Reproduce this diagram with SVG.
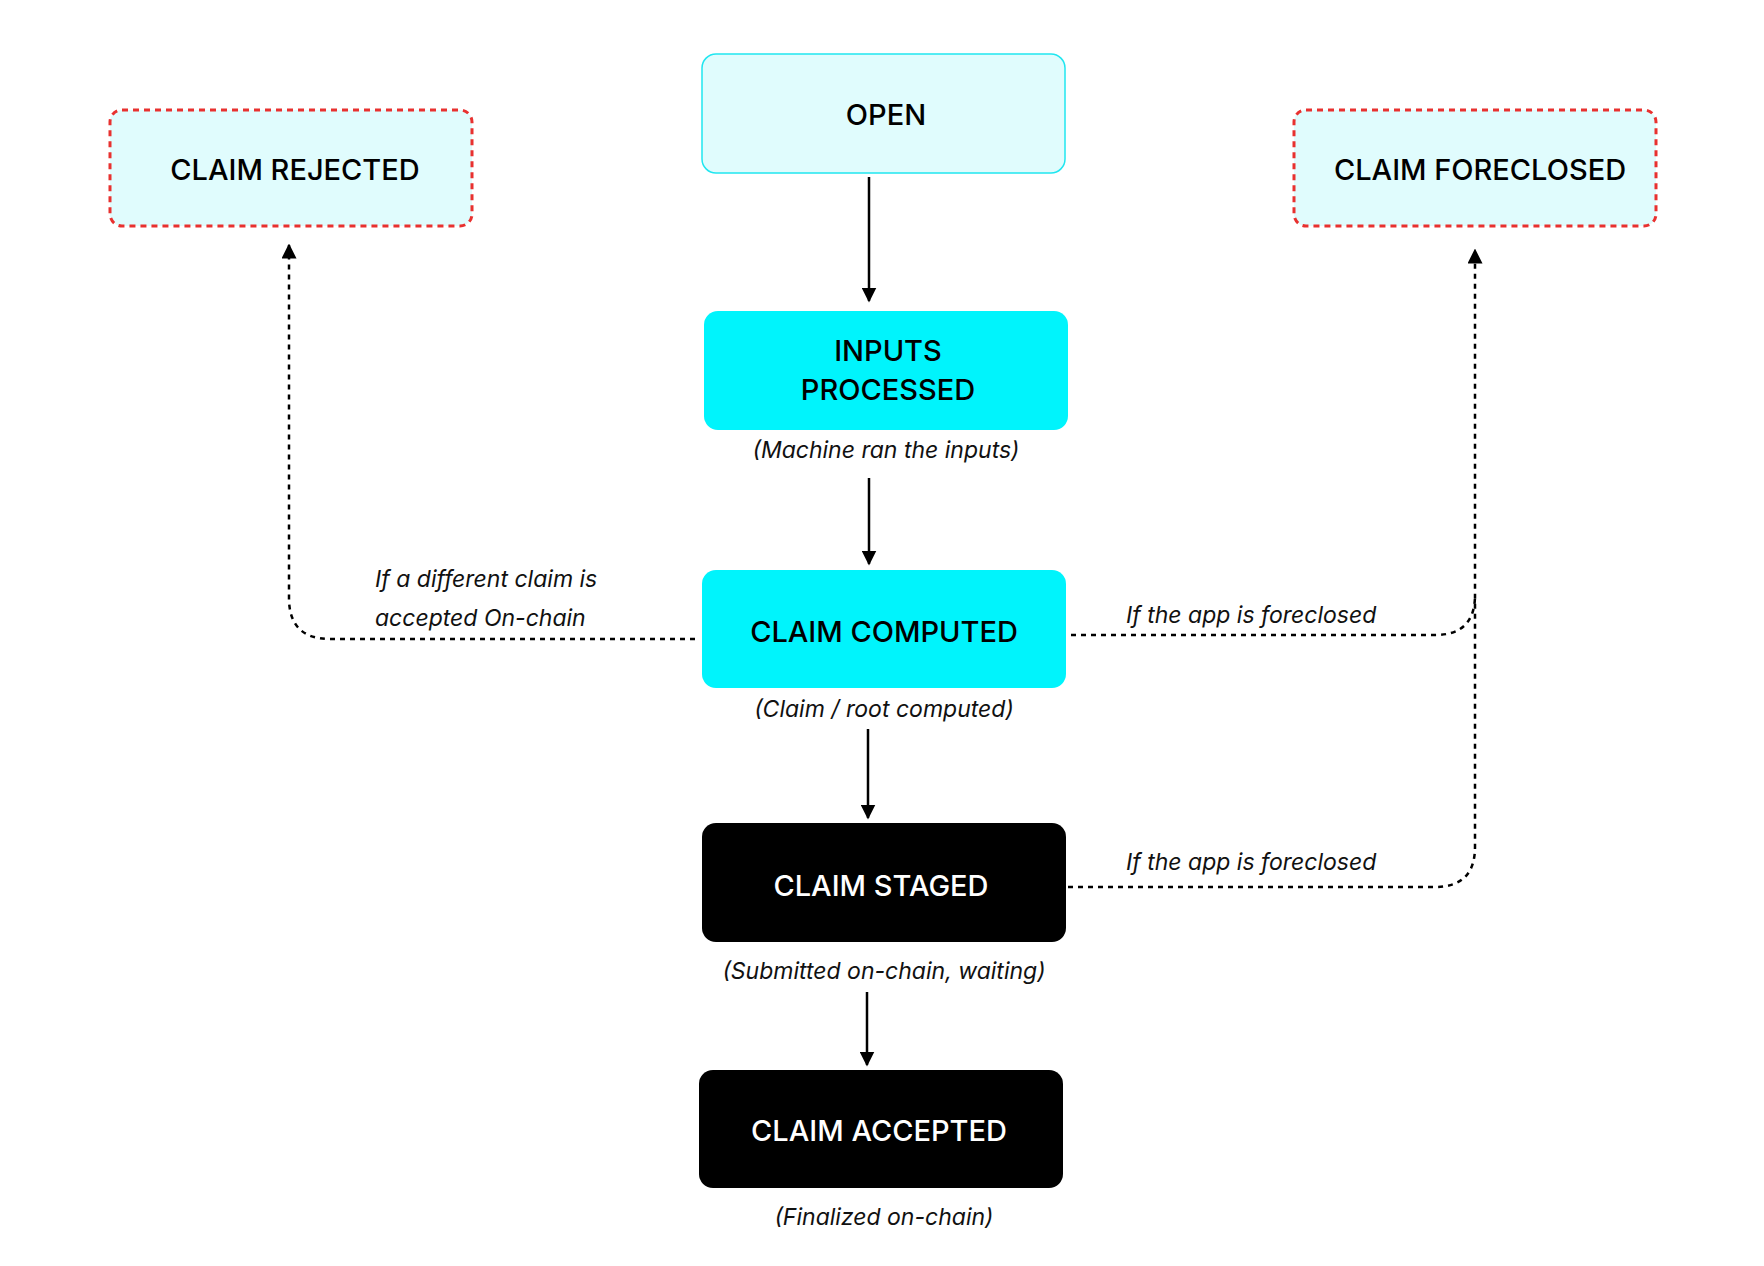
<svg xmlns="http://www.w3.org/2000/svg" width="1764" height="1266" viewBox="0 0 1764 1266">
<defs>
<marker id="ah" viewBox="0 0 10 10" refX="9" refY="5" markerWidth="6" markerHeight="6" orient="auto"><path d="M0,0 L10,5 L0,10 z" fill="#000"/></marker>
<style>
.t{font-family:Inter,"Noto Sans",sans-serif;font-size:29px;font-weight:500;text-anchor:middle}
.c{font-family:Inter,"Noto Sans",sans-serif;font-size:23px;font-style:italic;text-anchor:middle;fill:#111}
.l{font-family:Inter,"Noto Sans",sans-serif;font-size:23px;font-style:italic;fill:#111}
.s{stroke:#000;stroke-width:2.5;fill:none}
.d{stroke:#000;stroke-width:2.5;fill:none;stroke-dasharray:5,5}
.r{fill:#e0fcfd;stroke:#e8312f;stroke-width:3;stroke-dasharray:6,5}
</style>
</defs>
<rect width="1764" height="1266" fill="#fff"/>
<g id="open"><rect x="702" y="54" width="363" height="119" rx="14" fill="#e0fcfd" stroke="#20e6f0" stroke-width="1.5"/><text class="t" x="886" y="125">OPEN</text></g>
<g id="rejected"><rect class="r" x="110" y="110" width="362" height="116" rx="12"/><text class="t" x="295" y="180">CLAIM REJECTED</text></g>
<g id="foreclosed"><rect class="r" x="1294" y="110" width="362" height="116" rx="12"/><text class="t" x="1480" y="180">CLAIM FORECLOSED</text></g>
<g id="inputs"><rect x="704" y="311" width="364" height="119" rx="14" fill="#00f4fc"/><text class="t" x="888" y="361">INPUTS</text><text class="t" x="888" y="400">PROCESSED</text><text class="c" x="886" y="458">(Machine ran the inputs)</text></g>
<g id="computed"><rect x="702" y="570" width="364" height="118" rx="14" fill="#00f4fc"/><text class="t" x="884" y="642">CLAIM COMPUTED</text><text class="c" x="884" y="717">(Claim / root computed)</text></g>
<g id="staged"><rect x="702" y="823" width="364" height="119" rx="14" fill="#000"/><text class="t" x="881" y="896" fill="#fff">CLAIM STAGED</text><text class="c" x="884" y="979">(Submitted on-chain, waiting)</text></g>
<g id="accepted"><rect x="699" y="1070" width="364" height="118" rx="14" fill="#000"/><text class="t" x="879" y="1141" fill="#fff">CLAIM ACCEPTED</text><text class="c" x="884" y="1225">(Finalized on-chain)</text></g>
<g id="connectors">
<line class="s" x1="869" y1="177" x2="869" y2="301" marker-end="url(#ah)"/>
<line class="s" x1="869" y1="478" x2="869" y2="564" marker-end="url(#ah)"/>
<line class="s" x1="868" y1="729" x2="868" y2="818" marker-end="url(#ah)"/>
<line class="s" x1="867" y1="992" x2="867" y2="1065" marker-end="url(#ah)"/>
<path class="d" d="M695,639 H330 Q289,639 289,598 V245" marker-end="url(#ah)"/>
<path class="d" d="M1071,635 H1435 Q1475,635 1475,595"/>
<path class="d" d="M1068,887 H1435 Q1475,887 1475,847 V250" marker-end="url(#ah)"/>
<text class="l" x="375" y="587">If a different claim is</text>
<text class="l" x="375" y="626">accepted  On-chain</text>
<text class="l" x="1126" y="623">If the app is foreclosed</text>
<text class="l" x="1126" y="870">If the app is foreclosed</text>
</g>
</svg>
